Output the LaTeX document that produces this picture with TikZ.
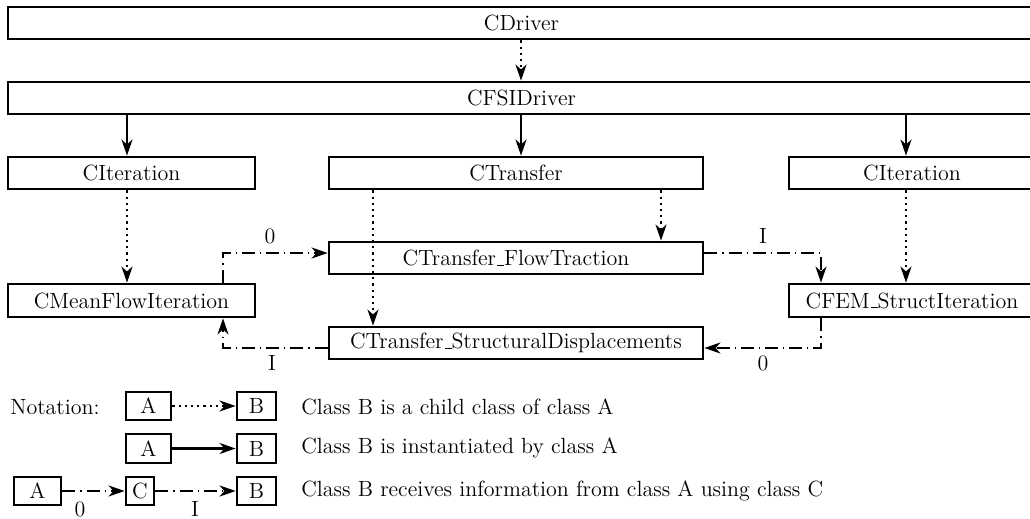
\documentclass[tikz,border=0pt]{standalone}
\usetikzlibrary{arrows.meta}
% classic low-rule underscore
\newcommand{\usc}{\leavevmode\kern.06em\vbox{\hrule width.3em height .4pt}}
\begin{document}
\begin{tikzpicture}[x=0.5pt, y=-0.5pt,
  font=\fontsize{11}{13}\selectfont,
  cls/.style={draw, line width=1.4pt, rectangle, inner sep=0pt, fill=white},
  wh/.style 2 args={minimum width=#1*0.5pt, minimum height=#2*0.5pt},
  tip/.style={-{Stealth[length=8pt, width=5.5pt, inset=2.4pt]}},
  child/.style={tip, line width=1.1pt, dotted},
  inst/.style={tip, line width=1.1pt},
  info/.style={tip, line width=1.1pt, dash pattern=on 6.5pt off 2.5pt on 0.6pt off 2.5pt},
  lbl/.style={inner sep=0pt}]
  \useasboundingbox (0,0) rectangle (1030,519);
  \clip (0,0) rectangle (1030,519);

  % class boxes
  \node[cls, wh={1027}{32}] (drv)    at (521.5,23)   {CDriver};
  \node[cls, wh={1027}{32}] (fsi)    at (521.5,98)   {CFSIDriver};
  \node[cls, wh={247}{32}]  (iterL)  at (131.5,173)  {CIteration};
  \node[cls, wh={374}{32}]  (trans)  at (516,173)    {CTransfer};
  \node[cls, wh={246}{32}]  (iterR)  at (912,173)    {CIteration};
  \node[cls, wh={247}{33}]  (mean)   at (131.5,300.5){CMeanFlowIteration};
  \node[cls, wh={374}{32}]  (flow)   at (516,258)    {CTransfer\usc FlowTraction};
  \node[cls, wh={374}{32}]  (disp)   at (516,343)    {CTransfer\usc StructuralDisplacements};
  \node[cls, wh={246}{33}]  (fem)    at (912,300.5)  {CFEM\usc StructIteration};

  % inheritance
  \draw[child] (drv.south -| 521,0) -- (fsi.north -| 521,0);
  \draw[child] (iterL.south -| 127,0) -- (mean.north -| 127,0);
  \draw[child] (trans.south -| 661,0) -- (flow.north -| 661,0);
  \draw[child] (trans.south -| 373,0) -- (disp.north -| 373,0);
  \draw[child] (iterR.south -| 906,0) -- (fem.north -| 906,0);

  % instantiation
  \draw[inst] (fsi.south -| 127,0) -- (iterL.north -| 127,0);
  \draw[inst] (fsi.south -| 521,0) -- (trans.north -| 521,0);
  \draw[inst] (fsi.south -| 906,0) -- (iterR.north -| 906,0);

  % information transfer
  \draw[info] (mean.north -| 223,0) |- (flow.west |- 0,253);
  \draw[info] (flow.east |- 0,253) -| (fem.north -| 821,0);
  \draw[info] (fem.south -| 821,0) |- (disp.east |- 0,348);
  \draw[info] (disp.west |- 0,348) -| (mean.south -| 223,0);
  \node[lbl] (l0a) at (270,236) {0};
  \node[lbl] (l1a) at (763,236) {I};
  \node[lbl] (l0b) at (763,363) {0};
  \node[lbl] (l1b) at (272,363) {I};

  % notation
  \node[lbl, anchor=west] (note) at (10,407) {Notation:};
  \node[cls, wh={45}{28}] (nA1) at (148.5,406) {A};
  \node[cls, wh={39}{28}] (nB1) at (256.5,406) {B};
  \node[cls, wh={45}{29}] (nA2) at (148.5,448.5) {A};
  \node[cls, wh={39}{29}] (nB2) at (256.5,448.5) {B};
  \node[cls, wh={47}{28}] (nA3) at (37.5,491) {A};
  \node[cls, wh={28}{28}] (nC3) at (140,491) {C};
  \node[cls, wh={39}{28}] (nB3) at (256.5,491) {B};
  \draw[child] (nA1) -- (nB1);
  \draw[inst]  (nA2) -- (nB2);
  \draw[info]  (nA3) -- (nC3);
  \draw[info]  (nC3) -- (nB3);
  \node[lbl] (n0) at (80,509) {0};
  \node[lbl] (n1) at (195,509) {I};
  \node[lbl, anchor=west] (t1) at (301,407) {Class B is a child class of class A};
  \node[lbl, anchor=west] (t2) at (301,448) {Class B is instantiated by class A};
  \node[lbl, anchor=west] (t3) at (301,491) {Class B receives information from class A using class C};
\end{tikzpicture}
\end{document}
